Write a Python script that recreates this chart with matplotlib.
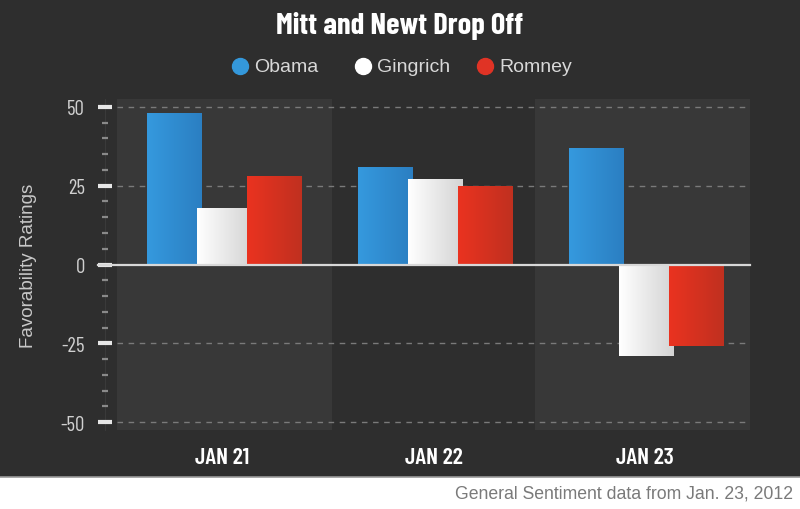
import numpy as np
import matplotlib
matplotlib.use("Agg")
import matplotlib.pyplot as plt
from matplotlib.colors import LinearSegmentedColormap
from matplotlib.patches import Rectangle
from matplotlib.lines import Line2D

# data
dates = ["JAN 21", "JAN 22", "JAN 23"]
candidates = ["Obama", "Gingrich", "Romney"]
obama = [48, 31, 37]
gingrich = [18, 27, -29]
romney = [28, 25, -26]

# (left, right) colours of each bar's gradient
grad_colors = {
    "Obama": ("#3599de", "#2b7fc2"),
    "Gingrich": ("#ffffff", "#d4d4d4"),
    "Romney": ("#ea3320", "#c0301f"),
}
dot_colors = {"Obama": "#3498db", "Gingrich": "#ffffff", "Romney": "#e03325"}

BG = "#2e2e2e"
BAND = "#383838"
COND = ["Barlow Condensed", "DejaVu Sans"]
SANS = ["Liberation Sans", "DejaVu Sans"]


def shade_bar(ax, patch, c_left, c_right):
    x0, y0 = patch.get_x(), patch.get_y()
    w, h = patch.get_width(), patch.get_height()
    cmap = LinearSegmentedColormap.from_list("g", [c_left, c_right])
    grad = np.linspace(0, 1, 64)[None, :]
    im = ax.imshow(grad, cmap=cmap, aspect="auto",
                   extent=(x0, x0 + w, min(y0, y0 + h), max(y0, y0 + h)),
                   zorder=patch.get_zorder() + 0.01, interpolation="bilinear")
    im.set_clip_path(patch)


fig = plt.figure(figsize=(8, 5.1), dpi=100)
fig.patch.set_facecolor(BG)
# white strip at the bottom for the source note
fig.add_artist(Rectangle((0, 0), 1, 32 / 510, transform=fig.transFigure,
                         facecolor="white", edgecolor="none", zorder=0))
fig.add_artist(Line2D([0, 1], [32 / 510, 32 / 510], transform=fig.transFigure,
                      color="#9a9a9a", lw=1.2))

ax = fig.add_axes([117 / 800, 79 / 510, 633 / 800, 331 / 510])
ax.set_facecolor(BG)

x = np.arange(len(dates))
width = 0.26
step = 0.237
series = [("Obama", obama), ("Gingrich", gingrich), ("Romney", romney)]
for k, (name, vals) in enumerate(series):
    bars = ax.bar(x + (k - 1) * step + 0.01, vals, width,
                  color=grad_colors[name][0], edgecolor="none", zorder=3 + k)
    for p in bars:
        shade_bar(ax, p, *grad_colors[name])

# lighter bands behind alternate categories
ax.axvspan(-0.5, 0.52, color=BAND, zorder=0, lw=0)
ax.axvspan(1.48, 2.5, color=BAND, zorder=0, lw=0)

ax.set_xlim(-0.5, len(dates) - 0.5)
ax.set_ylim(-52.5, 52.5)

# gridlines
for yv in [50, 25, -25, -50]:
    ax.axhline(yv, color="#7a7a7a", lw=1, dashes=(4, 4), zorder=1)
ax.axhline(0, color="#d8d8d8", lw=1.6, zorder=10, xmin=-0.03, xmax=1,
           clip_on=False)

for s in ["top", "right", "bottom"]:
    ax.spines[s].set_visible(False)
ax.spines["left"].set_position(("outward", 9))
ax.spines["left"].set_color("#3a3a3a")
ax.spines["left"].set_zorder(0)

ax.set_yticks([50, 25, 0, -25, -50])
ax.set_yticklabels(["50", "25", "0", "-25", "-50"])
ax.set_yticks(np.arange(-45, 50, 5), minor=True)
ax.tick_params(axis="y", which="major", direction="inout", length=10,
               width=3, color="#e6e6e6", pad=9, labelsize=15,
               labelcolor="#d0d0d0")
ax.tick_params(axis="y", which="minor", direction="inout", length=5,
               width=1.6, color="#8a8a8a")
for lab in ax.get_yticklabels():
    lab.set_family(COND)

ax.set_xticks(x)
ax.set_xticklabels(dates)
ax.tick_params(axis="x", length=0, pad=12, labelsize=17, labelcolor="white")
for lab in ax.get_xticklabels():
    lab.set_family(COND)
    lab.set_weight("semibold")

ax.set_ylabel("Favorability Ratings", color="#c8c8c8", fontsize=13.5,
              family=SANS)
ax.yaxis.set_label_coords(-(117 - 37) / 633, 0.5)

# title and legend
fig.text(0.5, 1 - 26 / 510, "Mitt and Newt Drop Off", ha="center",
         va="center", color="white", fontsize=22, weight="bold", family=COND)
leg_x = [240, 363, 485]
for name, lx in zip(candidates, leg_x):
    fig.add_artist(Line2D([lx / 800], [1 - 67 / 510], marker="o",
                          markersize=11.5, color=dot_colors[name],
                          transform=fig.transFigure, lw=0))
    fig.text((lx + 14) / 800, 1 - 67 / 510, name, ha="left", va="center",
             color="#d8d8d8", fontsize=14, family=SANS)

fig.text(793 / 800, 1 - 494 / 510, "General Sentiment data from Jan. 23, 2012",
         ha="right", va="center", color="#7a7a7a", fontsize=12.7, family=SANS)

fig.savefig("out.png", dpi=100, facecolor=fig.get_facecolor())
